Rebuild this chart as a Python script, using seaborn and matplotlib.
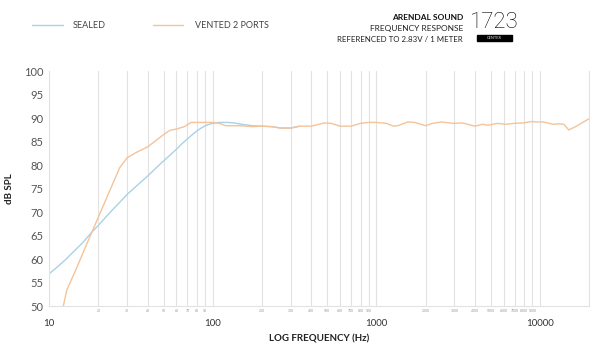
import matplotlib
matplotlib.use('Agg')
import matplotlib.pyplot as plt
import seaborn as sns
import numpy as np
import pandas as pd
from matplotlib.ticker import FixedLocator, FixedFormatter

# 数据
sealed_f = [10, 11, 12.5, 14, 16, 18.5, 20, 22.5, 25, 27.5, 30, 35, 40, 45, 50, 55, 60, 65, 70, 75, 80,
            85, 90, 95, 100, 110, 120, 135, 150, 175, 200, 230, 260, 300, 340]
sealed_db = [56.9, 58.1, 59.8, 61.5, 63.5, 66.0, 67.2, 69.2, 70.9, 72.4, 73.8, 75.9, 77.7, 79.4, 80.9, 82.2,
             83.4, 84.6, 85.6, 86.5, 87.3, 87.9, 88.4, 88.7, 88.9, 89.1, 89.1, 89.0, 88.7, 88.4, 88.3,
             88.2, 87.9, 87.9, 88.3]

vented_f = [12.2, 12.8, 14.7, 16.9, 19.9, 23.4, 27, 30, 34, 40, 50, 54.5, 60, 67, 73.6, 83, 100,
            110, 120, 145, 175, 200, 230, 260, 300, 340, 400, 480, 530, 600, 700, 800, 900,
            1000, 1150, 1270, 1350, 1560, 1720, 2000, 2200, 2500, 2950, 3350, 4000, 4450,
            4800, 5500, 6200, 6970, 7900, 9000, 9500, 10500, 12000, 13000, 14000, 15000,
            16700, 20000]
vented_db = [50.0, 53.4, 58.1, 63.1, 68.8, 74.5, 79.5, 81.6, 82.7, 83.9, 86.5, 87.4, 87.7, 88.2, 89.1, 89.1, 89.1,
             88.9, 88.4, 88.4, 88.2, 88.3, 88.2, 87.9, 87.9, 88.3, 88.3, 89.0, 88.9, 88.3, 88.3, 88.9, 89.1,
             89.1, 88.9, 88.3, 88.4, 89.2, 89.1, 88.4, 88.9, 89.2, 88.9, 89.0, 88.3, 88.7,
             88.5, 88.9, 88.7, 88.9, 89.0, 89.3, 89.2, 89.2, 88.7, 88.8, 88.7, 87.5,
             88.3, 89.9]

major_ticks = [10, 100, 1000, 10000]
minor_ticks = [20, 30, 40, 50, 60, 70, 80, 90,
               200, 300, 400, 500, 600, 700, 800, 900,
               2000, 3000, 4000, 5000, 6000, 7000, 8000, 9000]
y_ticks = list(range(50, 101, 5))

blue = '#a9d2e6'
orange = '#f4c39a'
txt = '#333333'

sns.set_style('white')
plt.rcParams['font.family'] = ['Lato', 'DejaVu Sans']

df = pd.concat([
    pd.DataFrame({'f': sealed_f, 'db': sealed_db, 's': 'SEALED'}),
    pd.DataFrame({'f': vented_f, 'db': vented_db, 's': 'VENTED 2 PORTS'}),
])

fig = plt.figure(figsize=(6, 3.56), dpi=100)
ax = fig.add_axes([0.082, 0.14, 0.9, 0.66])

sns.lineplot(data=df, x='f', y='db', hue='s', palette=[blue, orange],
             linewidth=1.0, ax=ax, legend=False, sort=False)

ax.set_xscale('log')
ax.set_xlim(10, 20000)
ax.set_ylim(50, 100)

ax.xaxis.set_major_locator(FixedLocator(major_ticks))
ax.xaxis.set_major_formatter(FixedFormatter([str(t) for t in major_ticks]))
ax.xaxis.set_minor_locator(FixedLocator(minor_ticks))
ax.xaxis.set_minor_formatter(FixedFormatter([str(t) for t in minor_ticks]))
ax.tick_params(axis='x', which='major', length=0, pad=9, labelsize=7, labelcolor=txt)
ax.tick_params(axis='x', which='minor', length=0, pad=2, labelsize=2.5, labelcolor='#999999')
ax.set_yticks(y_ticks)
ax.tick_params(axis='y', length=0, pad=4, labelsize=8, labelcolor='#555555')

ax.grid(True, which='both', axis='x', color='#e2e2e2', linewidth=0.8)
ax.grid(False, axis='y')
for side in ['left', 'bottom', 'right']:
    ax.spines[side].set_color('#e2e2e2')
    ax.spines[side].set_linewidth(0.8)
ax.spines['top'].set_visible(False)

ax.set_xlabel('LOG FREQUENCY (Hz)', fontsize=7, fontweight='bold', color='#222222', labelpad=5)
ax.set_ylabel('dB SPL', fontsize=7, fontweight='bold', color='#222222', labelpad=7)

# 图例（顶部）
fig.add_artist(plt.Line2D([32 / 600, 63 / 600], [1 - 25 / 356] * 2, color=blue, lw=1.0))
fig.text(73 / 600, 1 - 25 / 356, 'SEALED', fontsize=6.5, color='#444444', va='center')
fig.add_artist(plt.Line2D([153 / 600, 183 / 600], [1 - 25 / 356] * 2, color=orange, lw=1.0))
fig.text(195 / 600, 1 - 25 / 356, 'VENTED 2 PORTS', fontsize=6.5, color='#444444', va='center')

# 右上角标题
fig.text(463 / 600, 1 - 17 / 356, 'ARENDAL SOUND', fontsize=6, fontweight='bold',
         color='#111111', ha='right', va='center')
fig.text(463 / 600, 1 - 28 / 356, 'FREQUENCY RESPONSE', fontsize=6,
         color='#222222', ha='right', va='center')
fig.text(463 / 600, 1 - 39 / 356, 'REFERENCED TO 2.83V / 1 METER', fontsize=5.7,
         color='#222222', ha='right', va='center')
fig.text(494 / 600, 1 - 22 / 356, '1723', fontsize=16, fontweight='light',
         family=['Roboto', 'DejaVu Sans'], color='#000000', ha='center', va='center')
fig.patches.append(plt.Rectangle((477 / 600, 1 - 41 / 356), 35 / 600, 6 / 356,
                                 transform=fig.transFigure, color='black'))
fig.text(494.5 / 600, 1 - 38 / 356, 'CENTER', fontsize=2.8, color='#dddddd',
         ha='center', va='center')

plt.savefig('out.png', dpi=100)
